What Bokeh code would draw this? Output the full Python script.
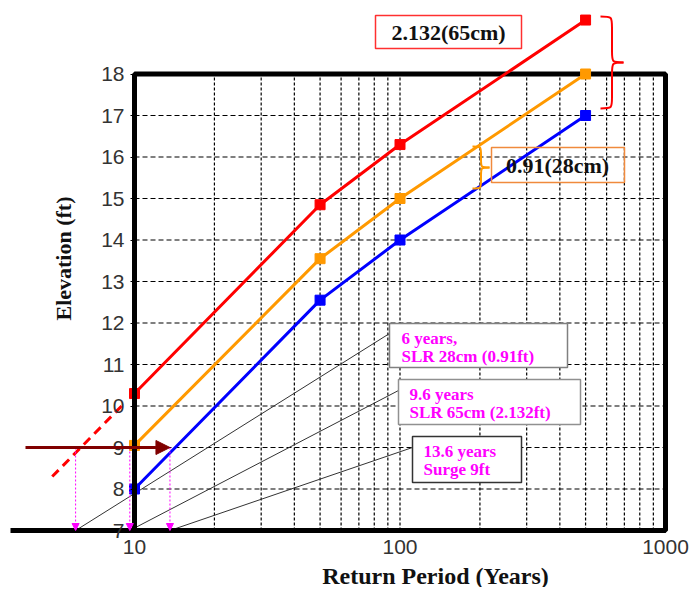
import math
from bokeh.plotting import figure
from bokeh.models import (Range1d, FixedTicker, BoxAnnotation, Label, Arrow, NormalHead)
from bokeh.embed import file_html
from bokeh.resources import INLINE

# ---------------- data ----------------
periods = [10, 50, 100, 500]                 # return period (years)
surge_only = [8.0, 12.55, 14.0, 17.0]        # blue
slr_28cm = [9.05, 13.55, 15.0, 18.0]         # orange
slr_65cm = [10.3, 14.85, 16.3, 19.3]         # red

red_ext_x = [4.9, 9.1]                       # dashed extrapolation of red curve
red_ext_y = [8.3, 10.05]

new_periods = [6, 9.6, 13.6]                 # return periods read at 9 ft
surge_level = 9

x_ticks = [10, 100, 1000]
x_tick_labels = ["10", "100", "1000"]
y_ticks = list(range(7, 19))
x_grid = [20, 30, 40, 50, 60, 70, 80, 90, 100, 200, 300, 400, 500, 600, 700, 800, 900]
y_grid = list(range(8, 18))

# -------------- geometry helpers (reference pixels -> data) --------------
PX_X10, PX_PER_DEC = 134.0, 265.5
PX_Y7, PX_PER_FT = 530.0, 41.5
def dx(px):
    return 10 ** (1 + (px - PX_X10) / PX_PER_DEC)
def dy(py):
    return 7 + (PX_Y7 - py) / PX_PER_FT

W, H = 697, 587
SERIF = "Liberation Serif"

p = figure(width=W, height=H, x_axis_type="log",
           x_range=Range1d(dx(0), dx(W)), y_range=Range1d(dy(H), dy(0)),
           output_backend="svg", toolbar_location=None,
           min_border_left=0, min_border_right=0, min_border_top=0, min_border_bottom=0)
p.outline_line_color = None
p.xgrid.visible = False
p.ygrid.visible = False
p.background_fill_color = "white"
p.border_fill_color = "white"

# axes
xa = p.xaxis[0]
xa.fixed_location = 7
xa.bounds = (dx(10), 1000)
xa.ticker = FixedTicker(ticks=x_ticks, minor_ticks=[])
xa.major_label_overrides = {t: s for t, s in zip(x_ticks, x_tick_labels)}
xa.axis_line_width = 5
xa.axis_line_color = "black"
xa.major_tick_out = 0
xa.major_tick_in = 0
xa.minor_tick_out = 0
xa.minor_tick_in = 0
xa.major_label_standoff = 9
xa.major_label_text_font = "Liberation Sans"
xa.major_label_text_font_size = "21px"
xa.major_label_text_color = "#333333"

ya = p.yaxis[0]
ya.fixed_location = 10
ya.bounds = (7, 18)
ya.ticker = FixedTicker(ticks=y_ticks, minor_ticks=[])
ya.axis_line_width = 5
ya.axis_line_color = "black"
ya.major_tick_out = 4
ya.major_tick_in = 0
ya.minor_tick_out = 0
ya.minor_tick_in = 0
ya.major_label_standoff = 6
ya.major_label_text_font = "Liberation Sans"
ya.major_label_text_font_size = "21px"
ya.major_label_text_color = "#333333"

# grid (dashed, only inside the box)
p.segment(x0=x_grid, y0=[7] * len(x_grid), x1=x_grid, y1=[18] * len(x_grid),
          line_color="black", line_width=1.2, line_dash="3 2")
p.segment(x0=[10] * len(y_grid), y0=y_grid, x1=[1000] * len(y_grid), y1=y_grid,
          line_color="black", line_width=1.2, line_dash="5 3")

# box frame
p.add_layout(BoxAnnotation(left=10, right=1000, bottom=7, top=18, fill_alpha=0,
                           line_color="black", line_alpha=1, line_width=5, level="underlay"))

# leader lines to the text boxes
lead_x1 = [dx(389), dx(398), dx(412)]
lead_y1 = [dy(333), dy(390), dy(447)]
p.segment(x0=new_periods, y0=[7] * 3, x1=lead_x1, y1=lead_y1, line_color="#333333", line_width=1)

# magenta drop lines
for xp in new_periods:
    p.add_layout(Arrow(end=NormalHead(size=7, fill_color="#ff00ff", line_color="#ff00ff"),
                       x_start=xp, y_start=surge_level, x_end=xp, y_end=7,
                       line_color="#ff00ff", line_width=1, line_dash="2 2"))

# red dashed extension
p.line(red_ext_x, red_ext_y, line_color="#ff0000", line_width=3, line_dash="9 6")

# series
for ys, col in [(slr_65cm, "#ff0000"), (slr_28cm, "#ff9900"), (surge_only, "#0000ff")]:
    p.line(periods, ys, line_color=col, line_width=3)
    p.scatter(periods, ys, marker="square", size=10, fill_color=col, line_color=col)

# dark red arrow at 9 ft
p.add_layout(Arrow(end=NormalHead(size=14, fill_color="#800000", line_color="#800000"),
                   x_start=dx(25), y_start=surge_level, x_end=new_periods[-1], y_end=surge_level,
                   line_color="#800000", line_width=3))

# braces
def brace(L, T, Y0, Y1, color):
    M = (L + T) / 2.0
    Ym = (Y0 + Y1) / 2.0
    r = (T - L) * 0.5
    curves = [
        ((L, Y0), (M, Y0), (M, Y0), (M, Y0 + r)),
        ((M, Ym - r), (M, Ym), (M, Ym), (T, Ym)),
        ((T, Ym), (M, Ym), (M, Ym), (M, Ym + r)),
        ((M, Y1 - r), (M, Y1), (M, Y1), (L, Y1)),
    ]
    p.bezier(x0=[dx(c[0][0]) for c in curves], y0=[dy(c[0][1]) for c in curves],
             cx0=[dx(c[1][0]) for c in curves], cy0=[dy(c[1][1]) for c in curves],
             cx1=[dx(c[2][0]) for c in curves], cy1=[dy(c[2][1]) for c in curves],
             x1=[dx(c[3][0]) for c in curves], y1=[dy(c[3][1]) for c in curves],
             line_color=color, line_width=2)
    p.segment(x0=[dx(M), dx(M)], y0=[dy(Y0 + r), dy(Ym + r)],
              x1=[dx(M), dx(M)], y1=[dy(Ym - r), dy(Y1 - r)],
              line_color=color, line_width=2)

brace(600, 623, 16, 108, "#ff0000")
brace(472, 489, 146, 188, "#ff9900")

# text boxes
def tbox(l, r, t, b, line_color, fill=True):
    p.add_layout(BoxAnnotation(left=dx(l), right=dx(r), top=dy(t), bottom=dy(b),
                               fill_color="white", fill_alpha=1 if fill else 0,
                               line_color=line_color, line_alpha=1, line_width=1.5))

tbox(375, 521, 15, 48, "#ff3030")
p.add_layout(Label(x=dx(448), y=dy(32), text="2.132(65cm)", text_font=SERIF, text_font_style="bold",
                   text_font_size="22px", text_color="#111111", text_align="center", text_baseline="middle"))

tbox(491, 624, 147, 182, "#f08a3c", fill=False)
p.add_layout(Label(x=dx(557), y=dy(165), text="0.91(28cm)", text_font=SERIF, text_font_style="bold",
                   text_font_size="22px", text_color="#111111", text_align="center", text_baseline="middle"))

for (l, r, t, b, lc, tx, ty, txt) in [
    (389, 567, 323, 367, "#808080", 401, 328, "6 years,\nSLR 28cm (0.91ft)"),
    (398, 580, 379, 424, "#909090", 409, 384, "9.6 years\nSLR 65cm (2.132ft)"),
    (412, 521, 436, 482, "#333333", 423, 441, "13.6 years\nSurge 9ft"),
]:
    tbox(l, r, t, b, lc)
    p.add_layout(Label(x=dx(tx), y=dy(ty), text=txt, text_font=SERIF, text_font_style="bold",
                       text_font_size="17px", text_color="#ff00ff", text_align="left",
                       text_baseline="top", text_line_height=0.95))

# axis titles
p.add_layout(Label(x=dx(435), y=dy(575), text="Return Period (Years)", text_font=SERIF,
                   text_font_style="bold", text_font_size="24px", text_color="#111111",
                   text_align="center", text_baseline="middle"))
p.add_layout(Label(x=dx(63), y=dy(258), text="Elevation (ft)", text_font=SERIF, angle=math.pi / 2,
                   text_font_style="bold", text_font_size="22px", text_color="#111111",
                   text_align="center", text_baseline="middle"))

open("out.html", "w").write(file_html(p, INLINE))
